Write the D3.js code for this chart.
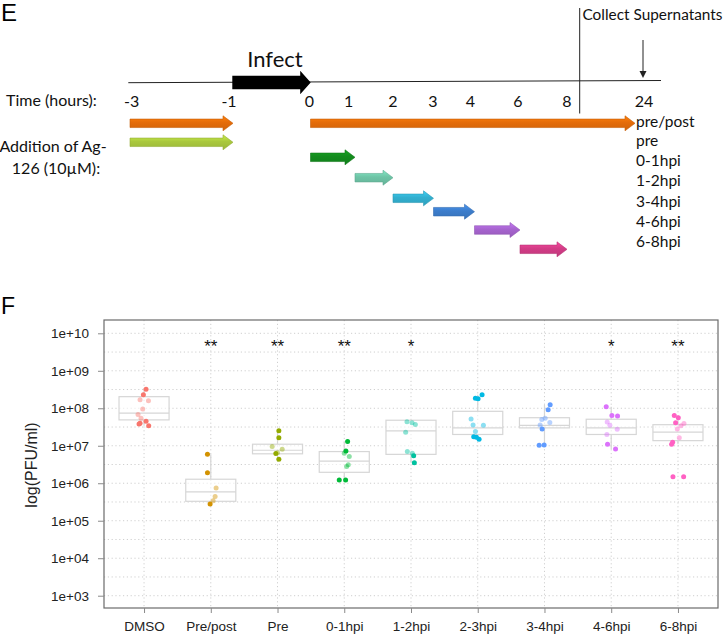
<!DOCTYPE html>
<html><head><meta charset="utf-8">
<script src="https://cdn.jsdelivr.net/npm/d3@7"></script>
<style>body{margin:0;background:#fff} svg{display:block}</style>
</head><body>
<svg id="c" width="726" height="635"></svg>
<script>
// ===== Panel E data =====
const timeTicks = [-3, -1, 0, 1, 2, 3, 4, 6, 8, 24];
const treatmentLabels = ["pre/post", "pre", "0-1hpi", "1-2hpi", "3-4hpi", "4-6hpi", "6-8hpi"];
const arrowStart = [-3, 0, -3, 0, 1, 2, 3, 4, 6];
const arrowEnd   = [-1, 24, -1, 1, 2, 3, 4, 6, 8];
const arrowColor = ["#E46C0A", "#E46C0A", "#A9C83D", "#138B1D", "#6EC4A6", "#32AFCF", "#3C7DCB", "#A664CE", "#D23C86"];
const arrowRow   = [0, 0, 1, 2, 3, 4, 5, 6, 7];

// ===== Panel F data =====
const categories = ["DMSO", "Pre/post", "Pre", "0-1hpi", "1-2hpi", "2-3hpi", "3-4hpi", "4-6hpi", "6-8hpi"];
const significance = ["", "**", "**", "**", "*", "", "", "*", "**"];
const yTicks = [1e3, 1e4, 1e5, 1e6, 1e7, 1e8, 1e9, 1e10];
const pfu = [
  [3.2e8, 2.3e8, 1.7e8, 1.6e8, 9.5e7, 6.8e7, 5.4e7, 4.5e7, 4.0e7, 3.8e7, 3.4e7],
  [5.9e6, 1.9e6, 7.5e5, 4.4e5, 3.4e5, 2.8e5],
  [2.5e7, 1.64e7, 9.5e6, 8.1e6, 6.5e6, 6.2e6, 4.4e6],
  [1.3e7, 7.3e6, 6.3e6, 5.2e6, 3.1e6, 2.8e6, 1.22e6, 1.22e6],
  [4.4e7, 4.1e7, 3.7e7, 2.3e7, 7.0e6, 6.3e6, 5.4e6, 3.5e6],
  [2.3e8, 1.85e8, 1.8e8, 5.2e7, 3.6e7, 3.5e7, 2.4e7, 1.75e7, 1.69e7, 1.49e7],
  [1.25e8, 9.2e7, 5.4e7, 5.0e7, 4.2e7, 3.6e7, 2.8e7, 1.05e7, 1.03e7],
  [1.1e8, 6.4e7, 6.2e7, 4.3e7, 3.5e7, 2.75e7, 2.0e7, 1.1e7, 8.2e6],
  [6.4e7, 5.6e7, 4.1e7, 3.9e7, 3.4e7, 2.8e7, 1.64e7, 1.24e7, 1.1e7, 1.5e6, 1.5e6]
];
// replicate shade: d = dark, l = light
const shade = [
  ["d","d","l","l","l","l","l","d","d","d","d"],
  ["d","d","l","l","l","d"],
  ["d","d","l","l","l","d","d"],
  ["d","d","l","l","l","l","d","d"],
  ["l","l","l","l","l","l","d","d"],
  ["d","d","d","l","l","l","l","d","d","d"],
  ["d","d","l","l","l","l","d","d","d"],
  ["d","d","d","l","l","l","l","d","d"],
  ["d","d","d","l","l","l","l","d","d","d","d"]
];
// horizontal jitter, fraction of category step
const jitter = [
  [0.03, -0.01, -0.06, 0.066, -0.02, -0.09, -0.045, 0.03, -0.06, -0.075, 0.07],
  [-0.05, -0.05, 0.08, 0.065, 0.035, -0.01],
  [0.02, 0.02, -0.08, 0.07, 0, -0.025, 0.02],
  [0.05, 0.025, 0, 0.075, 0.06, 0.035, -0.075, 0.02],
  [-0.06, 0.015, 0.065, -0.08, -0.055, 0.02, 0.04, 0.05],
  [0.065, -0.035, 0.005, -0.1, -0.07, 0.085, -0.035, -0.06, -0.02, 0.02],
  [0.085, 0.055, 0.01, -0.04, 0.08, -0.065, -0.035, -0.005, -0.08],
  [-0.075, 0.01, 0.095, -0.06, -0.02, 0.09, -0.065, -0.055, 0.065],
  [-0.055, 0.005, -0.035, 0.09, 0.045, -0.01, 0.02, -0.08, -0.095, -0.075, 0.085]
];
const boxLow    = [3.4e7, 2.8e5, 4.4e6, 1.22e6, 3.5e6, 1.49e7, 1.03e7, 8.2e6, 1.1e7];
const boxQ1     = [4.9e7, 3.3e5, 6.1e6, 1.96e6, 5.9e6, 2.0e7, 3.0e7, 2.0e7, 1.37e7];
const boxMedian = [7.4e7, 5.9e5, 7.6e6, 3.9e6, 2.5e7, 3.0e7, 3.5e7, 3.0e7, 2.3e7];
const boxQ3     = [2.04e8, 1.28e6, 1.1e7, 7.0e6, 4.8e7, 8.3e7, 5.6e7, 5.1e7, 3.65e7];
const boxHigh   = [3.2e8, 5.9e6, 2.5e7, 1.3e7, 4.8e7, 2.3e8, 1.25e8, 1.1e8, 6.4e7];
const groupColor = ["#F8766D", "#D39200", "#93AA00", "#00BA38", "#00C19F", "#00B9E3", "#619CFF", "#DB72FB", "#FF61C3"];

const svg = d3.select("#c");
const EF = "Lato, 'Open Sans', sans-serif";
const AF = "'Liberation Sans', Arial, sans-serif";

// ================= Panel E =================
const gE = svg.append("g");
gE.append("text").attr("x", 1).attr("y", 21).attr("font-family", AF).attr("font-size", 24).text("E");

const timeX = d3.scaleLinear().domain(timeTicks).range([131.7, 229, 309.3, 348.7, 393, 433, 470.3, 518, 567, 644]);
const arrowX = d3.scaleLinear().domain(timeTicks).range([130, 233, 310.5, 355, 393, 433.5, 474.5, 520, 567, 635]);
const rowY = [123.3, 142.3, 157.3, 177.7, 198.3, 211.7, 230, 249.3];

function arrowPath(x0, x1, yc, bh, hh, hl) {
  const p = d3.path();
  p.moveTo(x0, yc - bh / 2);
  p.lineTo(x1 - hl, yc - bh / 2);
  p.lineTo(x1 - hl, yc - hh / 2);
  p.lineTo(x1, yc);
  p.lineTo(x1 - hl, yc + hh / 2);
  p.lineTo(x1 - hl, yc + bh / 2);
  p.lineTo(x0, yc + bh / 2);
  p.closePath();
  return p.toString();
}

// timeline axis line
gE.append("line").attr("x1", 128.3).attr("y1", 82.7).attr("x2", 661).attr("y2", 80.5)
  .attr("stroke", "#222").attr("stroke-width", 1);
// infect arrow
gE.append("path").attr("d", arrowPath(timeX(-1) + 3.3, timeX(0) + 1.4, 82.5, 13.3, 23.5, 10.5)).attr("fill", "#000");
gE.append("text").attr("x", 275).attr("y", 66.5).attr("text-anchor", "middle")
  .attr("font-family", EF).attr("font-size", 22).attr("fill", "#111").text("Infect");

gE.append("text").attr("x", 6).attr("y", 100).attr("dy", "0.35em")
  .attr("font-family", EF).attr("font-size", 16).attr("fill", "#111").text("Time (hours):");
gE.selectAll("text.tt").data(timeTicks).join("text").attr("class", "tt")
  .attr("x", d => timeX(d)).attr("y", 101.7).attr("dy", "0.35em").attr("text-anchor", "middle")
  .attr("font-family", EF).attr("font-size", 16).attr("fill", "#111").text(d => d);

// vertical separator and collect
gE.append("line").attr("x1", 579.7).attr("x2", 579.7).attr("y1", 8).attr("y2", 113.5).attr("stroke", "#222").attr("stroke-width", 1);
gE.append("text").attr("x", 582.5).attr("y", 15).attr("dy", "0.35em")
  .attr("font-family", EF).attr("font-size", 15.5).attr("textLength", 140).attr("lengthAdjust", "spacingAndGlyphs")
  .attr("fill", "#111").text("Collect Supernatants");
gE.append("line").attr("x1", 643).attr("x2", 643).attr("y1", 40).attr("y2", 72).attr("stroke", "#222").attr("stroke-width", 1);
gE.append("path").attr("d", "M639.5,71 L646.5,71 L643,78 Z").attr("fill", "#222");

gE.append("text").attr("x", 53).attr("y", 146.7).attr("dy", "0.35em").attr("text-anchor", "middle")
  .attr("font-family", EF).attr("font-size", 16).attr("fill", "#111").text("Addition of Ag-");
gE.append("text").attr("x", 56).attr("y", 168.3).attr("dy", "0.35em").attr("text-anchor", "middle")
  .attr("font-family", EF).attr("font-size", 16).attr("fill", "#111").text("126 (10µM):");

// gradient defs
const defs = svg.append("defs");
arrowColor.forEach((c, i) => {
  const g = defs.append("linearGradient").attr("id", "ag" + i).attr("x1", 0).attr("y1", 0).attr("x2", 0).attr("y2", 1);
  g.append("stop").attr("offset", "0%").attr("stop-color", d3.color(c).brighter(0.5));
  g.append("stop").attr("offset", "45%").attr("stop-color", c);
  g.append("stop").attr("offset", "100%").attr("stop-color", d3.color(c).darker(0.25));
});
gE.selectAll("path.tr").data(arrowStart).join("path").attr("class", "tr")
  .attr("d", (d, i) => arrowPath(arrowX(d), arrowX(arrowEnd[i]), rowY[arrowRow[i]], 8.5, 15, 10))
  .attr("fill", (d, i) => `url(#ag${i})`)
  .attr("stroke", (d, i) => d3.color(arrowColor[i]).darker(0.4)).attr("stroke-width", 0.6);

const labY = [121.5, 140.8, 160.5, 180.9, 201.5, 221.7, 241.7];
gE.selectAll("text.tl").data(treatmentLabels).join("text").attr("class", "tl")
  .attr("x", 636).attr("y", (d, i) => labY[i]).attr("dy", "0.35em")
  .attr("font-family", EF).attr("font-size", 15.5).attr("fill", "#111").text(d => d);

// ================= Panel F =================
const L = 104, R = 718, T = 320, B = 608;
const x = d3.scalePoint().domain(categories).range([L, R]).padding(0.6);
const step = x.step();
const y = d3.scaleLog().domain([Math.pow(10, 2.672), Math.pow(10, 10.355)]).range([B, T]);

const gF = svg.append("g");
gF.append("text").attr("x", 1).attr("y", 313.5).attr("font-family", AF).attr("font-size", 23).text("F");

// grid
const minor = d3.range(3, 10).map(k => Math.pow(10, k + 0.5));
const grid = gF.append("g").attr("stroke", "#cfcfcf").attr("stroke-width", 1).attr("stroke-dasharray", "1.2,2.6");
grid.selectAll("line.gy").data(yTicks.concat(minor)).join("line").attr("class", "gy")
  .attr("x1", L).attr("x2", R).attr("y1", d => y(d)).attr("y2", d => y(d));
grid.selectAll("line.gx").data(categories).join("line").attr("class", "gx")
  .attr("y1", T).attr("y2", B).attr("x1", d => x(d)).attr("x2", d => x(d));

// boxes
const bw = step * 0.75;
const boxes = gF.append("g").attr("stroke", "#d6d6d6").attr("stroke-width", 1.2).attr("fill", "none");
categories.forEach((c, i) => {
  const cx = x(c);
  boxes.append("line").attr("x1", cx).attr("x2", cx).attr("y1", y(boxQ3[i])).attr("y2", y(boxHigh[i]));
  boxes.append("line").attr("x1", cx).attr("x2", cx).attr("y1", y(boxQ1[i])).attr("y2", y(boxLow[i]));
  boxes.append("rect").attr("x", cx - bw / 2).attr("width", bw)
    .attr("y", y(boxQ3[i])).attr("height", y(boxQ1[i]) - y(boxQ3[i])).attr("fill", "#fff").attr("fill-opacity", 0.6);
  boxes.append("line").attr("x1", cx - bw / 2).attr("x2", cx + bw / 2).attr("y1", y(boxMedian[i])).attr("y2", y(boxMedian[i]));
});

// points
const pts = [];
categories.forEach((c, i) => pfu[i].forEach((v, j) => pts.push({c, i, v, s: shade[i][j], dx: jitter[i][j]})));
gF.append("g").selectAll("circle").data(pts).join("circle")
  .attr("cx", d => x(d.c) + d.dx * step).attr("cy", d => y(d.v)).attr("r", 2.5)
  .attr("fill", d => groupColor[d.i]).attr("fill-opacity", d => d.s === "d" ? 1 : 0.45);

// significance
gF.selectAll("text.sig").data(significance).join("text").attr("class", "sig")
  .attr("x", (d, i) => x(categories[i])).attr("y", 351.5).attr("text-anchor", "middle")
  .attr("font-family", AF).attr("font-size", 17).attr("fill", "#111").text(d => d);

// border
gF.append("rect").attr("x", L).attr("y", T).attr("width", R - L).attr("height", B - T)
  .attr("fill", "none").attr("stroke", "#6b6b6b").attr("stroke-width", 1.2);

// axes
const yAxis = gF.append("g").attr("transform", `translate(${L},0)`)
  .call(d3.axisLeft(y).tickValues(yTicks).tickSize(6).tickPadding(9).tickFormat(d => "1e+" + String(Math.round(Math.log10(d))).padStart(2, "0")));
const xAxis = gF.append("g").attr("transform", `translate(0,${B})`)
  .call(d3.axisBottom(x).tickSize(5).tickPadding(8));
[yAxis, xAxis].forEach(a => {
  a.select(".domain").remove();
  a.selectAll(".tick line").attr("stroke", "#8a8a8a");
  a.selectAll(".tick text").attr("font-family", AF).attr("font-size", 13.5).attr("fill", "#222");
});

gF.append("text").attr("transform", "translate(31,465) rotate(-90)").attr("text-anchor", "middle")
  .attr("dy", "0.35em").attr("font-family", AF).attr("font-size", 16).attr("fill", "#222").text("log(PFU/ml)");
</script>
</body></html>
